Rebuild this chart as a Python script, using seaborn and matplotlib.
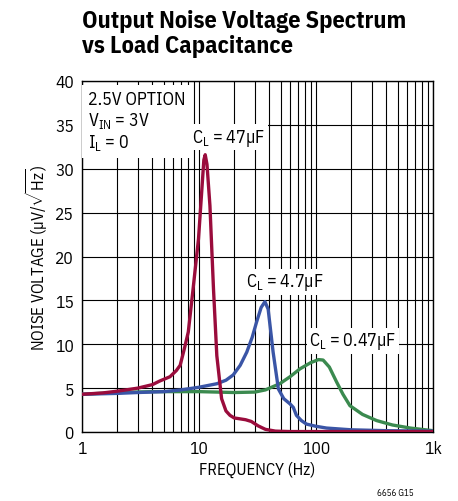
"""
Output noise voltage spectrum vs load capacitance
"""
import pandas as pd
import numpy as np

import matplotlib
matplotlib.use('Agg')
import matplotlib.pyplot as plt
import matplotlib.ticker as mticker
import seaborn as sns

# values
freq_47u = [1, 1.5, 2, 3, 4, 4.6, 5.65, 6.4, 6.9, 7.5, 8.1, 8.9, 9.9, 10.5, 11.0, 11.3,
            11.7, 12.4, 13.3, 14.2, 15.6, 17, 18.4, 20, 22.4, 25, 28, 32, 37, 45, 60, 100, 1000]
noise_47u = [4.3, 4.45, 4.65, 5.0, 5.4, 5.8, 6.3, 7.0, 7.6, 9.5, 11.4, 16.3, 22.0, 27.0, 31.0, 31.6,
             30.5, 25.8, 16.3, 8.7, 3.8, 2.4, 1.9, 1.6, 1.5, 1.4, 1.2, 0.7, 0.3, 0.1, 0.05, 0.05, 0.05]

freq_4u7 = [1, 2, 3, 5, 7, 10, 14.2, 17, 19.6, 22.5, 25.6, 28.5, 31, 34, 36.6, 39, 43, 47.7,
            53, 60, 64, 68, 75, 83, 100, 123, 200, 400, 1000]
noise_4u7 = [4.3, 4.4, 4.5, 4.6, 4.8, 5.1, 5.5, 5.9, 6.5, 7.6, 9.1, 10.8, 12.5, 14.2, 14.85, 14.0, 9.1, 4.9,
             3.8, 3.2, 2.8, 1.9, 1.3, 0.9, 0.65, 0.45, 0.25, 0.15, 0.1]

freq_0u47 = [1, 2, 4, 10, 20, 30, 37, 49, 60, 73, 90, 105, 115, 130, 150, 170, 195,
             250, 330, 450, 640, 1000]
noise_0u47 = [4.3, 4.5, 4.6, 4.6, 4.5, 4.55, 4.8, 5.5, 6.3, 7.2, 7.9, 8.25, 8.2, 7.4, 5.7, 4.3, 3.0,
              2.0, 1.3, 0.8, 0.45, 0.15]

series_names = ['0.47uF', '4.7uF', '47uF']
colors = ['#3b8a4f', '#3a55a6', '#9a0c3c']
x_ticks = [1, 10, 100, 1000]
x_ticklabels = ['1', '10', '100', '1k']
y_ticks = [0, 5, 10, 15, 20, 25, 30, 35, 40]

df = pd.concat([
    pd.DataFrame({'freq': freq_0u47, 'noise': noise_0u47, 'cl': '0.47uF'}),
    pd.DataFrame({'freq': freq_4u7, 'noise': noise_4u7, 'cl': '4.7uF'}),
    pd.DataFrame({'freq': freq_47u, 'noise': noise_47u, 'cl': '47uF'}),
])

FONT = 'IBM Plex Sans Condensed'
sns.set_style('white')
plt.rcParams['font.family'] = [FONT, 'DejaVu Sans']
plt.rcParams['mathtext.fontset'] = 'custom'
plt.rcParams['mathtext.rm'] = FONT
plt.rcParams['mathtext.it'] = FONT + ':italic'
plt.rcParams['mathtext.bf'] = FONT + ':bold'
for key in ['text.color', 'axes.labelcolor', 'xtick.color', 'ytick.color']:
    plt.rcParams[key] = 'black'

fig = plt.figure(figsize=(4.58, 5.02), dpi=100)
ax = fig.add_axes([82 / 458, 69 / 502, 351 / 458, 351 / 502])

sns.lineplot(data=df, x='freq', y='noise', hue='cl', hue_order=series_names,
             palette=colors, linewidth=2.4, legend=False, ax=ax, zorder=3,
             estimator=None, sort=False)

ax.set_xscale('log')
ax.set_xlim(1, 1000)
ax.set_ylim(0, 40)
ax.set_xticks(x_ticks)
ax.set_xticklabels(x_ticklabels, fontsize=12.5)
ax.xaxis.set_minor_locator(mticker.LogLocator(base=10, subs=np.arange(2, 10)))
ax.xaxis.set_minor_formatter(mticker.NullFormatter())
ax.set_yticks(y_ticks)
ax.set_yticklabels([str(v) for v in y_ticks], fontsize=12.5)
ax.tick_params(which='both', length=0, pad=6)
ax.grid(which='both', axis='x', color='black', linewidth=0.8)
ax.grid(which='major', axis='y', color='black', linewidth=0.8)
for sp in ax.spines.values():
    sp.set_color('black')
    sp.set_linewidth(1.0)

ax.set_xlabel('FREQUENCY (Hz)', fontsize=12, labelpad=3)
ax.set_ylabel(r'NOISE VOLTAGE (µV/$\sqrt{\mathregular{Hz}}$)', fontsize=12, labelpad=4)

# annotations
box = dict(facecolor='white', edgecolor='none', pad=2)
ax.text(0.017, 0.975, '2.5V OPTION\n' + r'V$_{\mathregular{IN}}$ = 3V' + '\n' + r'I$_{\mathregular{L}}$ = 0',
        transform=ax.transAxes, ha='left', va='top', fontsize=13, linespacing=1.15,
        bbox=dict(facecolor='white', edgecolor='none', pad=4), zorder=5)
ax.text(18, 33.6, r'C$_{\mathregular{L}}$ = 47µF', ha='center', va='center', fontsize=13,
        bbox=box, zorder=5)
ax.text(54, 17.1, r'C$_{\mathregular{L}}$ = 4.7µF', ha='center', va='center', fontsize=13,
        bbox=box, zorder=5)
ax.text(207, 10.4, r'C$_{\mathregular{L}}$ = 0.47µF', ha='center', va='center', fontsize=13,
        bbox=box, zorder=5)

fig.text(82 / 458, 1 - 10 / 502, 'Output Noise Voltage Spectrum\nvs Load Capacitance',
         ha='left', va='top', fontsize=17.5, fontweight='bold', linespacing=1.1)
fig.text(395 / 458, 1 - 494 / 502, '6656 G15', ha='center', va='center', fontsize=6.5)

fig.savefig('out.png', dpi=100)
